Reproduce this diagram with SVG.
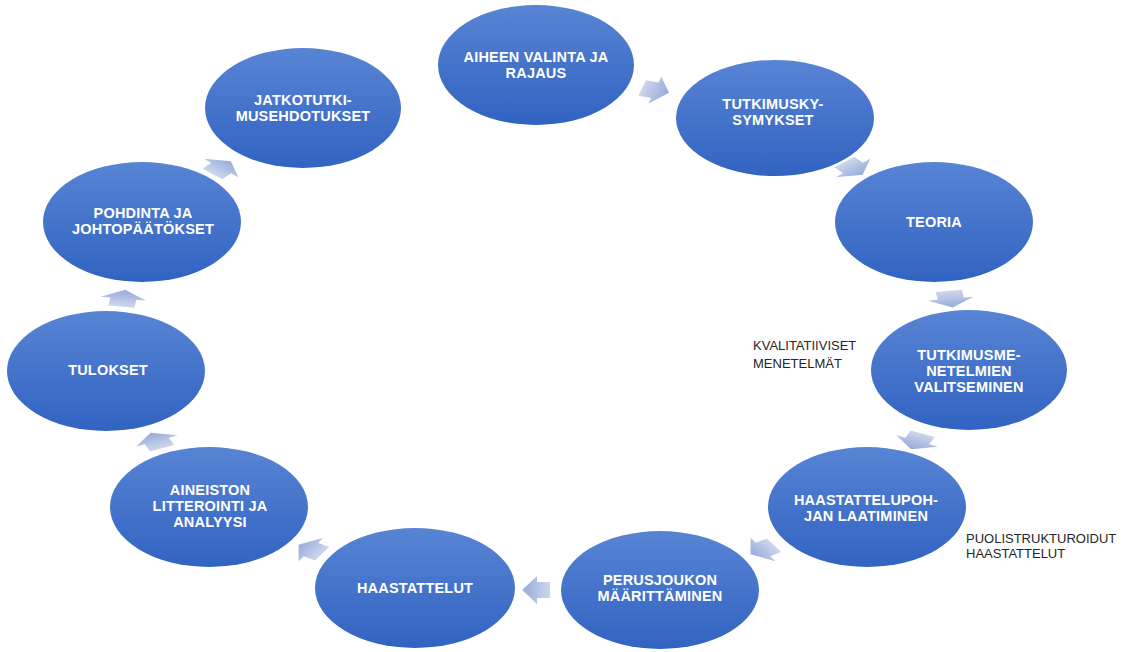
<svg xmlns="http://www.w3.org/2000/svg" width="1132" height="652" viewBox="0 0 1132 652">
<defs>
<linearGradient id="gNode" x1="0" y1="0" x2="0" y2="1">
<stop offset="0" stop-color="#5884d4"/>
<stop offset="1" stop-color="#3163c1"/>
</linearGradient>
<linearGradient id="gArr" x1="0" y1="0" x2="1" y2="0">
<stop offset="0" stop-color="#cdd6ec"/>
<stop offset="1" stop-color="#97abd9"/>
</linearGradient>
<polygon id="arr" points="-8,-8 0,-8 0,-14 9,0 0,14 0,8 -8,8"/>
</defs>
<style>
.n ellipse{fill:url(#gNode);}
.n text{font-family:"Liberation Sans",Arial,sans-serif;font-weight:bold;font-size:14.5px;letter-spacing:0.2px;fill:#ffffff;text-anchor:middle;}
.lbl{font-family:"Liberation Sans",Arial,sans-serif;font-size:13px;fill:#262626;}
.c use{fill:url(#gArr);}
</style>
<rect width="1132" height="652" fill="#ffffff"/>
<g id="connectors" class="c">
<use href="#arr" transform="translate(654.8,90.3) scale(1.64,1) rotate(16.36)"/>
<use href="#arr" transform="translate(852.9,168) scale(1.64,1) rotate(49.09)"/>
<use href="#arr" transform="translate(950.7,298.7) scale(1.64,1) rotate(81.82)"/>
<use href="#arr" transform="translate(917.2,441) scale(1.64,1) rotate(114.55)"/>
<use href="#arr" transform="translate(763,549.5) scale(1.64,1) rotate(147.27)"/>
<use href="#arr" transform="translate(537,590) scale(1.64,1) rotate(180)"/>
<use href="#arr" transform="translate(311,549.5) scale(1.64,1) rotate(212.73)"/>
<use href="#arr" transform="translate(156.8,441) scale(1.64,1) rotate(245.45)"/>
<use href="#arr" transform="translate(123.3,298.7) scale(1.64,1) rotate(278.18)"/>
<use href="#arr" transform="translate(221.1,168) scale(1.64,1) rotate(310.91)"/>
</g>
<g id="n1" class="n"><ellipse cx="536" cy="65" rx="98" ry="60"/><text x="536" y="62">AIHEEN VALINTA JA</text><text x="536" y="78">RAJAUS</text></g>
<g id="n2" class="n"><ellipse cx="775" cy="118" rx="99" ry="58"/><text x="773" y="109">TUTKIMUSKY-</text><text x="773" y="125">SYMYKSET</text></g>
<g id="n3" class="n"><ellipse cx="934" cy="222" rx="99" ry="60"/><text x="934" y="227">TEORIA</text></g>
<g id="n4" class="n"><ellipse cx="969" cy="370" rx="98" ry="60"/><text x="969" y="360">TUTKIMUSME-</text><text x="969" y="376">NETELMIEN</text><text x="969" y="392">VALITSEMINEN</text></g>
<g id="n5" class="n"><ellipse cx="867" cy="507" rx="99" ry="60"/><text x="866" y="505">HAASTATTELUPOH-</text><text x="866" y="521">JAN LAATIMINEN</text></g>
<g id="n6" class="n"><ellipse cx="660" cy="590" rx="99" ry="59"/><text x="660" y="585">PERUSJOUKON</text><text x="660" y="601">MÄÄRITTÄMINEN</text></g>
<g id="n7" class="n"><ellipse cx="415" cy="588" rx="100" ry="60"/><text x="415" y="593">HAASTATTELUT</text></g>
<g id="n8" class="n"><ellipse cx="209" cy="507" rx="99" ry="60"/><text x="210" y="495">AINEISTON</text><text x="210" y="511">LITTEROINTI JA</text><text x="210" y="527">ANALYYSI</text></g>
<g id="n9" class="n"><ellipse cx="106" cy="371" rx="99" ry="60"/><text x="108" y="375">TULOKSET</text></g>
<g id="n10" class="n"><ellipse cx="142" cy="222" rx="99" ry="60"/><text x="143" y="218">POHDINTA JA</text><text x="143" y="234">JOHTOPÄÄTÖKSET</text></g>
<g id="n11" class="n"><ellipse cx="303" cy="108" rx="98" ry="60"/><text x="303" y="105">JATKOTUTKI-</text><text x="303" y="121">MUSEHDOTUKSET</text></g>
<g id="labels">
<text class="lbl" x="753" y="350">KVALITATIIVISET</text>
<text class="lbl" x="753" y="368">MENETELMÄT</text>
<text class="lbl" x="966" y="543">PUOLISTRUKTUROIDUT</text>
<text class="lbl" x="966" y="558">HAASTATTELUT</text>
</g>
</svg>
